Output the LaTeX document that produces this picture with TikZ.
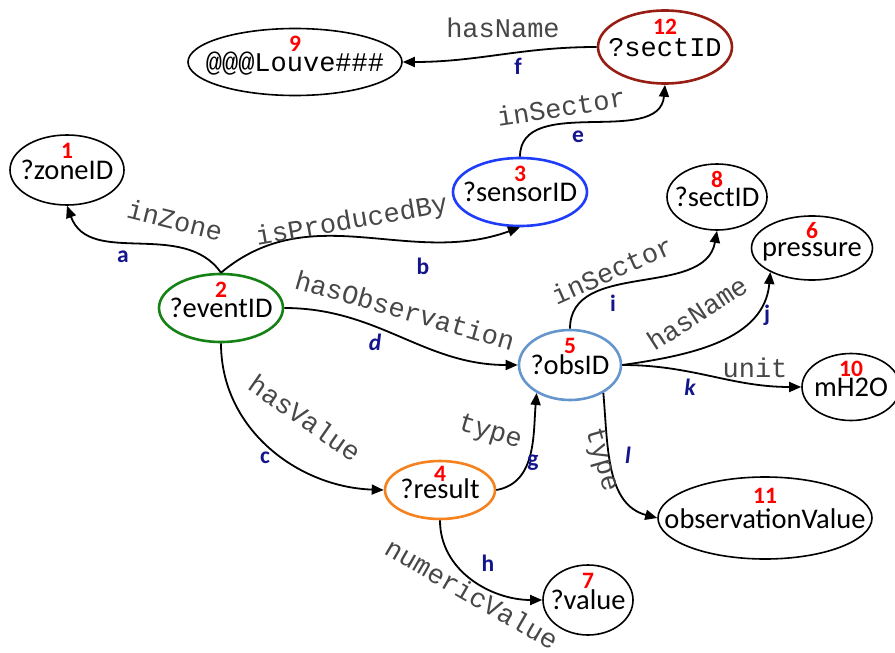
\documentclass[tikz,border=0pt]{standalone}
\usepackage{fontspec}
\setmainfont{Carlito}
\newfontfamily\monof{Liberation Mono}
\usetikzlibrary{arrows.meta,shapes.geometric,calc}
\definecolor{numred}{RGB}{255,0,0}
\definecolor{letblue}{RGB}{20,20,140}
\definecolor{ngreen}{RGB}{20,130,20}
\definecolor{nblue}{RGB}{30,60,250}
\definecolor{nlblue}{RGB}{100,150,205}
\definecolor{norange}{RGB}{245,130,30}
\definecolor{ndred}{RGB}{150,30,20}
\newcommand{\vnode}[9]{%
  \node[ell,#6,minimum width=#4pt,minimum height=#5pt] (#1) at (#2,#3) {};
  \node[numlab] (#1-num) at ([yshift=0.27*#5pt]#1.center) {#7};
  \node[nodelab,#9] (#1-txt) at ([yshift=-0.09*#5pt]#1.center) {#8};
}
\begin{document}
\begin{tikzpicture}[x=1pt,y=1pt,
  ell/.style={ellipse, draw=black, line width=1.6pt, inner sep=0pt},
  colored/.style={line width=2.6pt},
  numlab/.style={inner sep=0pt, text=numred, font=\bfseries\fontsize{23.5}{25}\selectfont},
  nodelab/.style={inner sep=0pt, text height=0.64em, text depth=0pt, font=\fontsize{28.5}{30}\selectfont},
  mono/.style={font=\monof\fontsize{27}{29}\selectfont},
  plain/.style={},
  edge/.style={line width=1.8pt, -{Triangle[length=12pt,width=10pt]}},
  elab/.style={inner sep=0pt, text=black!72, font=\monof\fontsize{27}{29}\selectfont},
  let/.style={inner sep=0pt, text=letblue, font=\bfseries\fontsize{23.5}{25}\selectfont},
  leti/.style={let, font=\bfseries\itshape\fontsize{23.5}{25}\selectfont}
]
\useasboundingbox (0,0) rectangle (895,-653);

\vnode{n1}{67}{-170}{114}{70}{}{1}{?zoneID}{plain}
\vnode{n2}{221}{-308}{124}{68}{colored,draw=ngreen}{2}{?eventID}{plain}
\vnode{n3}{520}{-192}{134}{68}{colored,draw=nblue}{3}{?sensorID}{plain}
\vnode{n4}{440}{-490}{110}{58}{colored,draw=norange}{4}{?result}{plain}
\vnode{n5}{570}{-365}{102}{70}{colored,draw=nlblue}{5}{?obsID}{plain}
\vnode{n6}{812}{-248}{121}{64}{}{6}{pressure}{plain}
\vnode{n7}{588}{-600}{90}{70}{}{7}{?value}{plain}
\vnode{n8}{717}{-197}{100}{66}{}{8}{?sectID}{plain}
\vnode{n9}{295}{-62}{214}{67}{}{9}{@@@Louve\#\#\#}{mono}
\vnode{n10}{851}{-387}{98}{67}{}{10}{mH2O}{plain}
\vnode{n11}{765}{-518}{214}{82}{}{11}{observationValue}{plain}
\vnode{n12}{665}{-47}{134}{73}{colored,draw=ndred}{12}{?sectID}{mono}

% connectors
\draw[edge] (n2.north) to[out=125,in=-70] (n1.south);
\draw[edge] (n2.north) to[out=40,in=-160] (n3.south);
\draw[edge] (n2.south) to[out=-90,in=178] (n4.west);
\draw[edge] (n2.east) to[out=0,in=180] (n5.west);
\draw[edge] (n3.north) to[out=90,in=-95] (n12.south);
\draw[edge] (n12.west) to[out=180,in=0] (n9.east);
\draw[edge] (n4.east) to[out=10,in=-95] (n5.-140);
\draw[edge] (n4.south) to[out=-90,in=180] (n7.west);
\draw[edge] (n5.north) to[out=90,in=-100] (n8.south);
\draw[edge] (n5.east) to[out=8,in=-95] (n6.-150);
\draw[edge] (n5.east) to[out=0,in=180] (n10.west);
\draw[edge] (n5.-40) to[out=-85,in=165] (n11.west);

% edge labels
\node[elab, rotate=-14] (la) at (175,-220) {inZone};
\node[elab, rotate=10] (lb) at (352,-222) {isProducedBy};
\node[elab, rotate=-35] (lc) at (305,-418) {hasValue};
\node[elab, rotate=-16] (ld) at (405,-310) {hasObservation};
\node[elab, rotate=9] (le) at (561,-107) {inSector};
\node[elab] (lf) at (503,-28) {hasName};
\node[elab, rotate=-17] (lg) at (490,-433) {type};
\node[elab, rotate=-30] (lh) at (472,-594) {numericValue};
\node[elab, rotate=24] (li) at (612,-270) {inSector};
\node[elab, rotate=33] (lj) at (697,-313) {hasName};
\node[elab] (lk) at (755,-368) {unit};
\node[elab, rotate=-74] (ll) at (601,-460) {type};

% edge letters
\node[let] (ta) at (123,-257) {a};
\node[let] (tb) at (423,-266) {b};
\node[let] (tc) at (265,-458) {c};
\node[leti] (td) at (375,-342) {d};
\node[let] (te) at (578,-137) {e};
\node[let] (tf) at (518,-66) {f};
\node[let] (tg) at (533,-463) {g};
\node[let] (th) at (488,-563) {h};
\node[let] (ti) at (613,-303) {i};
\node[let] (tj) at (767,-315) {j};
\node[leti] (tk) at (690,-387) {k};
\node[leti] (tl) at (628,-455) {l};
\end{tikzpicture}
\end{document}
